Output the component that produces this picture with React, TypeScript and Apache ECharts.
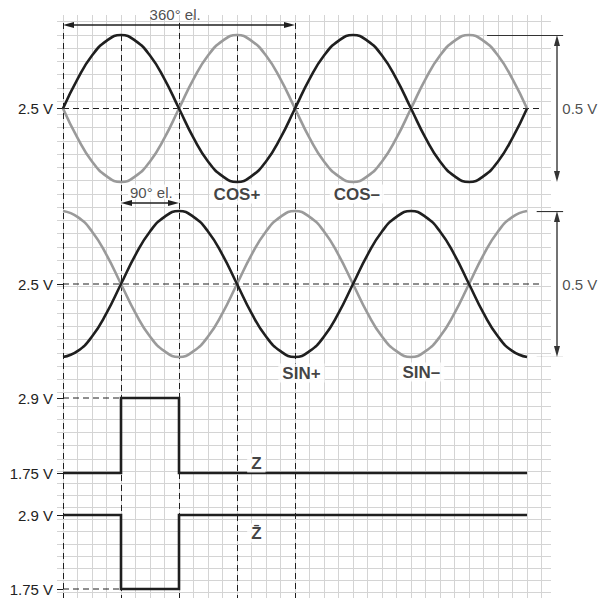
import React, { useEffect, useRef } from 'react';
import * as echarts from 'echarts';

// ---- data ----
const phases = [0, 22.5, 45, 67.5, 90, 112.5, 135, 157.5, 180, 202.5, 225, 247.5, 270, 292.5, 315, 337.5, 360, 382.5, 405, 427.5, 450, 472.5, 495, 517.5, 540, 562.5, 585, 607.5, 630, 652.5, 675, 697.5, 720];
const cosPlus = [2.5, 2.6, 2.68, 2.73, 2.75, 2.73, 2.68, 2.6, 2.5, 2.4, 2.32, 2.27, 2.25, 2.27, 2.32, 2.4, 2.5, 2.6, 2.68, 2.73, 2.75, 2.73, 2.68, 2.6, 2.5, 2.4, 2.32, 2.27, 2.25, 2.27, 2.32, 2.4, 2.5];
const cosMinus = [2.5, 2.4, 2.32, 2.27, 2.25, 2.27, 2.32, 2.4, 2.5, 2.6, 2.68, 2.73, 2.75, 2.73, 2.68, 2.6, 2.5, 2.4, 2.32, 2.27, 2.25, 2.27, 2.32, 2.4, 2.5, 2.6, 2.68, 2.73, 2.75, 2.73, 2.68, 2.6, 2.5];
const sinPlus = [2.25, 2.27, 2.32, 2.4, 2.5, 2.6, 2.68, 2.73, 2.75, 2.73, 2.68, 2.6, 2.5, 2.4, 2.32, 2.27, 2.25, 2.27, 2.32, 2.4, 2.5, 2.6, 2.68, 2.73, 2.75, 2.73, 2.68, 2.6, 2.5, 2.4, 2.32, 2.27, 2.25];
const sinMinus = [2.75, 2.73, 2.68, 2.6, 2.5, 2.4, 2.32, 2.27, 2.25, 2.27, 2.32, 2.4, 2.5, 2.6, 2.68, 2.73, 2.75, 2.73, 2.68, 2.6, 2.5, 2.4, 2.32, 2.27, 2.25, 2.27, 2.32, 2.4, 2.5, 2.6, 2.68, 2.73, 2.75];
const zPhases = [0, 90, 90, 180, 180, 720];
const zLevels = [1.75, 1.75, 2.9, 2.9, 1.75, 1.75];
const zBarLevels = [2.9, 2.9, 1.75, 1.75, 2.9, 2.9];
const analogCenter = 2.5;
const analogHigh = 2.75;
const analogLow = 2.25;
const digitalHigh = 2.9;
const digitalLow = 1.75;
const markerPhases = [0, 90, 180, 270, 360];
const fullPeriod = [0, 360];
const quarterPeriod = [90, 180];
const waveLabels = ['COS+', 'COS\u2013', 'SIN+', 'SIN\u2013'];
const zLabels = ['Z', 'Z\u0304'];
const spanLabels = ['360° el.', '90° el.'];
const ampLabel = '0.5 V';

// ---- layout ----
const FONT = '"Liberation Sans", Arial, Helvetica, sans-serif';
const X_MAX = 841; // degrees at the right edge of the canvas
const PX_PER_DEG = 542 / X_MAX;
const markerTops = [23, 35, 23, 35, 23];
const waveLabelPos = [[270, 194], [456, 194], [370, 373], [556, 372]];
const zLabelPos = [[300, 463], [300, 533]];
const fullArrowY = 25;
const quarterArrowY = 203;
const ampArrowX = 766.5;
const HEAD_W = 6;
const HEAD_L = 11;
const DARK = '#1f1f1f';
const GRAY = '#9a9a9a';
const GRID = '#d4d4d4';

const pts = (xs: number[], ys: number[]) => xs.map((x, i) => [x, ys[i]]);

function buildOption() {
  const headDeg = HEAD_L / 2 / PX_PER_DEG;
  const headV = (HEAD_L / 2) * (analogHigh - analogLow) / 147;

  const hiddenX = (gridIndex: number) => ({ type: 'value', gridIndex, min: 0, max: X_MAX, show: false });
  const valueAxis = (gridIndex: number, min: number, max: number, labels: number[]) => ({
    type: 'value', gridIndex, min, max,
    axisLine: { show: false },
    splitLine: { show: false },
    axisTick: { show: true, length: 6, customValues: labels, lineStyle: { color: DARK, width: 1 } },
    axisLabel: {
      customValues: labels, margin: 10, color: '#222', fontSize: 15, fontFamily: FONT,
      formatter: (v: number) => (labels.indexOf(v) >= 0 ? `${v} V` : ''),
    },
  });

  const wave = (name: string, xi: number, data: number[], color: string) => ({
    name, type: 'line', xAxisIndex: xi, yAxisIndex: xi, data: pts(phases, data),
    smooth: 0.5, showSymbol: false, symbol: 'none', clip: false, z: 4,
    lineStyle: { color, width: 2.6 },
  });
  const dashed = (xi: number, x0: number, x1: number, y: number) => ({
    type: 'line', xAxisIndex: xi, yAxisIndex: xi, data: [[x0, y], [x1, y]],
    symbol: 'none', clip: false, z: 2, silent: true,
    lineStyle: { color: DARK, width: 1, type: [6, 4] },
  });
  const heads = (xi: number, items: { p: number[]; r: number }[], color: string) => ({
    type: 'scatter', xAxisIndex: xi, yAxisIndex: xi, z: 5, symbol: 'triangle',
    symbolSize: [HEAD_W, HEAD_L],
    data: items.map((it) => ({ value: it.p, symbolRotate: it.r })),
    itemStyle: { color, opacity: 1 },
    silent: true,
  });
  const ampMarker = (xi: number, hx0: number) => ({
    type: 'lines', coordinateSystem: 'cartesian2d', xAxisIndex: xi, yAxisIndex: xi, z: 3,
    data: [
      { coords: [[ampArrowX, analogHigh - headV], [ampArrowX, analogLow + headV]], lineStyle: { color: '#444', width: 1.5, opacity: 1 } },
      { coords: [[hx0, analogHigh], [776, analogHigh]], lineStyle: { color: '#333', width: 1.2, opacity: 1 } },
      { coords: [[hx0, analogLow], [776, analogLow]], lineStyle: { color: '#333', width: 1.2, opacity: 1 } },
    ],
    lineStyle: { opacity: 1 },
  });
  const ampHeads = (xi: number) => heads(xi, [
    { p: [ampArrowX, analogHigh - headV], r: 0 },
    { p: [ampArrowX, analogLow + headV], r: 180 },
  ], '#333');
  const ampText = (xi: number) => ({
    type: 'scatter', xAxisIndex: xi, yAxisIndex: xi, symbolSize: 0, z: 10,
    data: [[802, analogCenter]],
    label: { show: true, position: 'inside', formatter: ampLabel, color: '#222', fontSize: 15, fontFamily: FONT },
  });
  const step = (xi: number, data: number[]) => ({
    type: 'line', xAxisIndex: xi, yAxisIndex: xi, data: pts(zPhases, data),
    symbol: 'none', clip: false, z: 4, lineStyle: { color: DARK, width: 2.6, join: 'miter' },
  });
  const boldLabel = {
    show: true, position: 'inside', color: '#111', fontSize: 17, fontWeight: 'bold', fontFamily: FONT,
    backgroundColor: '#fff', padding: [1, 4],
  };

  return {
    animation: false,
    backgroundColor: '#fff',
    grid: [
      { left: 63, top: 15, width: 478.5, height: 583 },
      { left: 57, top: 21.7, width: 494, height: 437.3 },
      { left: 57, top: 471, width: 494, height: 121.3 },
      { left: 63, right: 0, top: 35, height: 147 },
      { left: 63, right: 0, top: 211, height: 146 },
      { left: 63, right: 0, top: 398, height: 75 },
      { left: 63, right: 0, top: 515, height: 74 },
      { left: 63, right: 0, top: 0, height: 598 },
    ],
    xAxis: [
      {
        type: 'value', gridIndex: 0, min: 0, max: 742.5, interval: 22.5,
        axisLine: { show: false }, axisTick: { show: false }, axisLabel: { show: false },
        splitLine: { show: true, lineStyle: { color: GRID, width: 1 } },
      },
      { type: 'value', gridIndex: 1, min: 0, max: 1, show: false },
      { type: 'value', gridIndex: 2, min: 0, max: 1, show: false },
      hiddenX(3), hiddenX(4), hiddenX(5), hiddenX(6), hiddenX(7),
    ],
    yAxis: [
      { type: 'value', gridIndex: 0, min: 0, max: 1, show: false },
      {
        type: 'value', gridIndex: 1, min: 0, max: 33, interval: 1,
        axisLine: { show: false }, axisTick: { show: false }, axisLabel: { show: false },
        splitLine: { show: true, lineStyle: { color: GRID, width: 1 } },
      },
      {
        type: 'value', gridIndex: 2, min: 0, max: 10, interval: 1,
        axisLine: { show: false }, axisTick: { show: false }, axisLabel: { show: false },
        splitLine: { show: true, lineStyle: { color: GRID, width: 1 } },
      },
      valueAxis(3, analogLow, analogHigh, [analogCenter]),
      valueAxis(4, analogLow, analogHigh, [analogCenter]),
      valueAxis(5, digitalLow, digitalHigh, [digitalLow, digitalHigh]),
      valueAxis(6, digitalLow, digitalHigh, [digitalLow, digitalHigh]),
      { type: 'value', gridIndex: 7, min: 0, max: 598, inverse: true, show: false },
    ],
    series: [
      // vertical phase markers
      {
        type: 'lines', coordinateSystem: 'cartesian2d', xAxisIndex: 7, yAxisIndex: 7, z: 2,
        data: markerPhases.map((p, i) => ({ coords: [[p, markerTops[i]], [p, 598]] })),
        lineStyle: { color: DARK, width: 1, type: [6, 4], opacity: 1 },
      },
      // span arrows (shafts)
      {
        type: 'lines', coordinateSystem: 'cartesian2d', xAxisIndex: 7, yAxisIndex: 7, z: 3,
        data: [
          { coords: [[fullPeriod[0] + headDeg, fullArrowY], [fullPeriod[1] - headDeg, fullArrowY]] },
          { coords: [[quarterPeriod[0] + headDeg, quarterArrowY], [quarterPeriod[1] - headDeg, quarterArrowY]] },
        ],
        lineStyle: { color: DARK, width: 1.5, opacity: 1 },
      },
      heads(7, [
        { p: [fullPeriod[0] + headDeg, fullArrowY], r: 90 },
        { p: [fullPeriod[1] - headDeg, fullArrowY], r: -90 },
        { p: [quarterPeriod[0] + headDeg, quarterArrowY], r: 90 },
        { p: [quarterPeriod[1] - headDeg, quarterArrowY], r: -90 },
      ], DARK),
      {
        type: 'scatter', xAxisIndex: 7, yAxisIndex: 7, symbolSize: 0, z: 10,
        data: [
          { value: [174, 14], label: { formatter: spanLabels[0], backgroundColor: 'transparent' } },
          { value: [137, 192], label: { formatter: spanLabels[1] } },
        ],
        label: { show: true, position: 'inside', color: '#222', fontSize: 15, fontFamily: FONT, backgroundColor: '#fff', padding: [0, 2] },
      },
      {
        type: 'scatter', xAxisIndex: 7, yAxisIndex: 7, symbolSize: 0, z: 10,
        data: waveLabels.map((t, i) => ({ value: waveLabelPos[i], label: { formatter: t } })),
        label: boldLabel,
      },
      {
        type: 'scatter', xAxisIndex: 7, yAxisIndex: 7, symbolSize: 0, z: 10,
        data: zLabels.map((t, i) => ({ value: zLabelPos[i], label: { formatter: t } })),
        label: boldLabel,
      },
      // COS panel
      dashed(3, 0, 744, analogCenter),
      wave('COS\u2013', 3, cosMinus, GRAY),
      wave('COS+', 3, cosPlus, DARK),
      ampMarker(3, 658),
      ampHeads(3),
      ampText(3),
      // SIN panel
      dashed(4, 0, 744, analogCenter),
      wave('SIN\u2013', 4, sinMinus, GRAY),
      wave('SIN+', 4, sinPlus, DARK),
      ampMarker(4, 735),
      ampHeads(4),
      ampText(4),
      // Z panel
      dashed(5, 0, 90, digitalHigh),
      step(5, zLevels),
      // Z-bar panel
      dashed(6, 0, 90, digitalLow),
      step(6, zBarLevels),
    ],
  };
}

export default function App() {
  const ref = useRef<HTMLDivElement>(null);
  useEffect(() => {
    if (!ref.current) return;
    const chart = echarts.init(ref.current, undefined, { renderer: 'svg' });
    chart.setOption(buildOption() as any);
    return () => chart.dispose();
  }, []);
  return (
    <div
      ref={ref}
      style={{ position: 'fixed', left: 0, top: 0, width: 605, height: 598, background: '#fff' }}
    />
  );
}
